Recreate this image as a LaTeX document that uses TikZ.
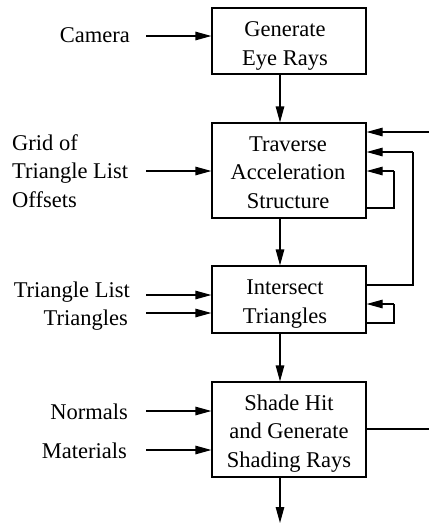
\documentclass[tikz,border=0pt]{standalone}
\usepackage{fontspec}
\setmainfont{Liberation Serif}
\usetikzlibrary{arrows.meta}
\begin{document}
\begin{tikzpicture}[x=1pt,y=-1pt,
  box/.style={draw, line width=1.2pt, minimum width=154pt, inner sep=0pt},
  boxtext/.style={align=center, inner sep=0pt, font=\fontsize{22.5}{28.5}\selectfont},
  lbl/.style={inner sep=0pt, font=\fontsize{22.5}{28.5}\selectfont},
  arr/.style={line width=1.2pt, -{Triangle[length=16pt,width=8.5pt]}},
  ln/.style={line width=1.2pt}]
\useasboundingbox (0,0) rectangle (429,523);

% processing stages
\node[box, minimum height=66pt] (b1) at (289,41) {};
\node[box, minimum height=95pt] (b2) at (289,170.5) {};
\node[box, minimum height=67pt] (b3) at (289,299.5) {};
\node[box, minimum height=95pt] (b4) at (289,429.5) {};

% stage captions (anchored at the baseline of their last line)
\node[boxtext, anchor=base] (t1) at (285,65) {Generate\\Eye Rays};
\node[boxtext, anchor=base] (t2) at (288,208) {Traverse\\Acceleration\\Structure};
\node[boxtext, anchor=base] (t3) at (285,323) {Intersect\\Triangles};
\node[boxtext, anchor=base] (t4) at (289,467) {Shade Hit\\and Generate\\Shading Rays};

% data inputs
\node[lbl, anchor=base east] (camera) at (130,42) {Camera};
\node[lbl, align=left, anchor=base west] (grid) at (12,207) {Grid of\\Triangle List\\Offsets};
\node[lbl, anchor=base east] (tlist) at (130,297) {Triangle List};
\node[lbl, anchor=base east] (tris) at (128,325) {Triangles};
\node[lbl, anchor=base east] (normals) at (128,419) {Normals};
\node[lbl, anchor=base east] (materials) at (127,458) {Materials};

\coordinate (inCam) at (146,36);
\coordinate (inGrid) at (146,171);
\coordinate (inTL) at (146,295);
\coordinate (inTri) at (146,313);
\coordinate (inNrm) at (146,411);
\coordinate (inMat) at (146,450);

\draw[arr] (inCam) -- (inCam -| b1.west);
\draw[arr] (inGrid) -- (inGrid -| b2.west);
\draw[arr] (inTL) -- (inTL -| b3.west);
\draw[arr] (inTri) -- (inTri -| b3.west);
\draw[arr] (inNrm) -- (inNrm -| b4.west);
\draw[arr] (inMat) -- (inMat -| b4.west);

% main flow down the column
\coordinate (col) at (280,0);
\draw[arr] (col |- b1.south) -- (col |- b2.north);
\draw[arr] (col |- b2.south) -- (col |- b3.north);
\draw[arr] (col |- b3.south) -- (col |- b4.north);
\coordinate (outBot) at (280,523);
\draw[arr] (col |- b4.south) -- (outBot);

% feedback paths on the right
\coordinate (fbTop) at (429,132);
\draw[arr] (fbTop) -- (fbTop -| b2.east);

\coordinate (loopA) at (394,208);
\coordinate (loopAin) at (394,171);
\draw[ln] (loopA -| b2.east) -- (loopA) -- (loopAin);
\draw[arr] (loopAin) -- (loopAin -| b2.east);

\coordinate (loopB) at (413,285);
\coordinate (loopBin) at (413,152);
\draw[ln] (loopB -| b3.east) -- (loopB) -- (loopBin);
\draw[arr] (loopBin) -- (loopBin -| b2.east);

\coordinate (loopC) at (394,323);
\coordinate (loopCin) at (394,304);
\draw[ln] (loopC -| b3.east) -- (loopC) -- (loopCin);
\draw[arr] (loopCin) -- (loopCin -| b3.east);

% output to the next pass
\coordinate (outRight) at (429,429);
\draw[ln] (outRight -| b4.east) -- (outRight);
\end{tikzpicture}
\end{document}
